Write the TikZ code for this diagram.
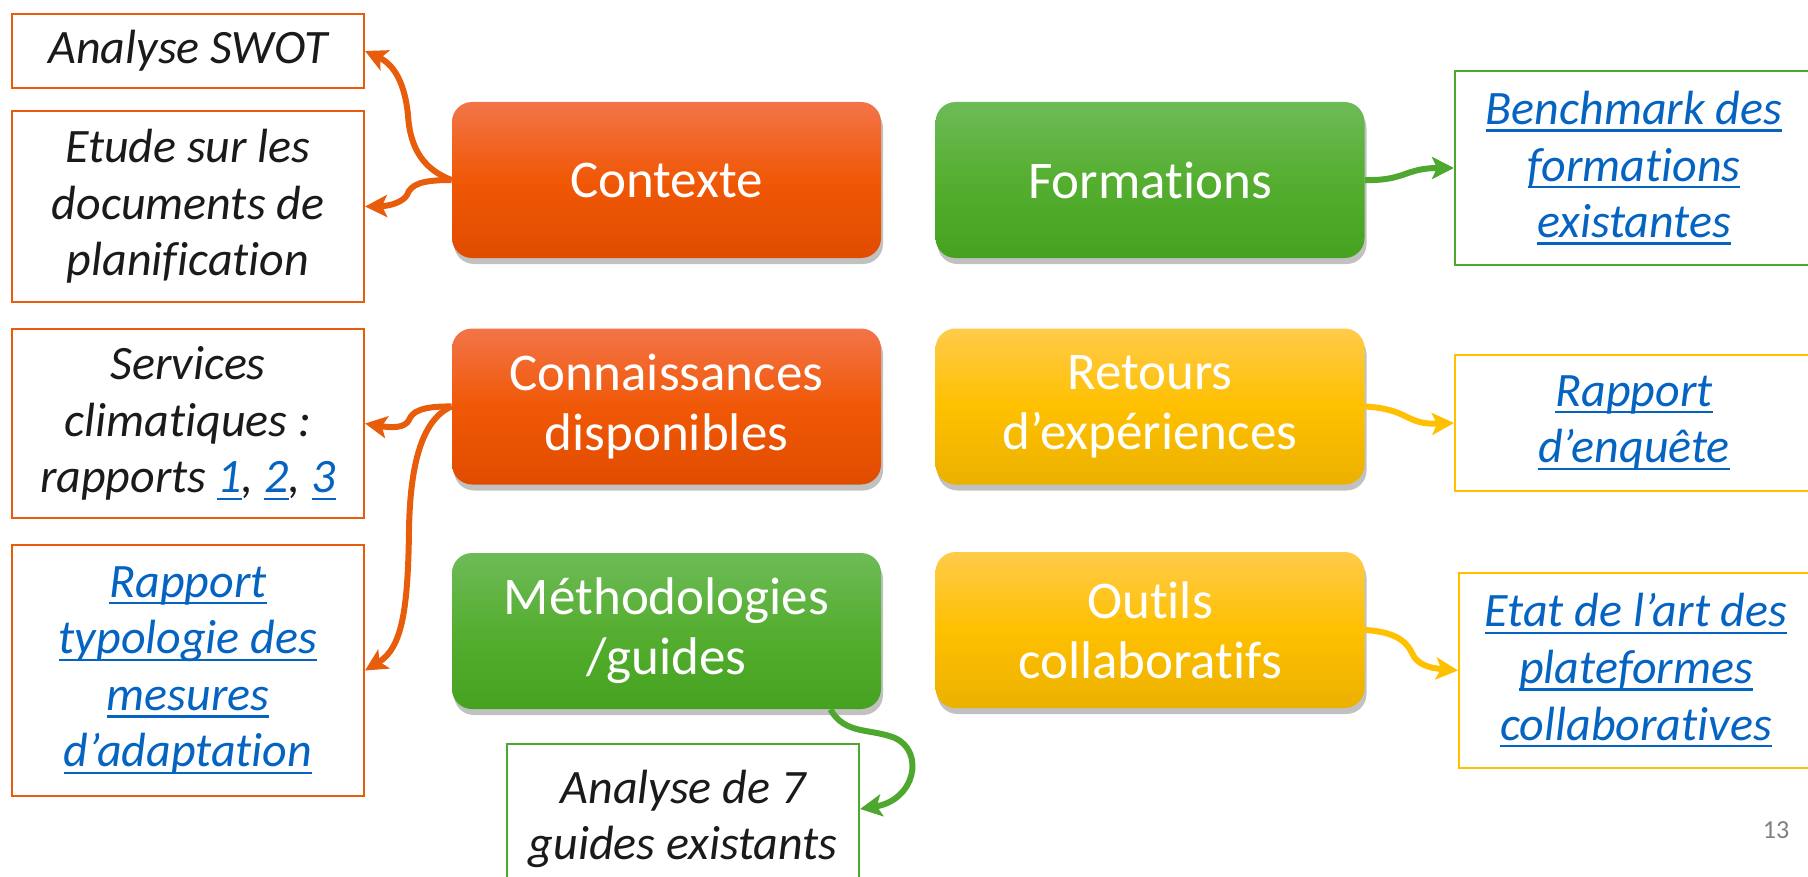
\documentclass[tikz,border=0pt]{standalone}
\usepackage{fontspec}
\setmainfont{Carlito}[Ligatures={NoCommon}]
\usetikzlibrary{arrows.meta,shadows,calc}
\definecolor{orA}{HTML}{E85D0C}
\definecolor{orTop}{HTML}{F37449}
\definecolor{orMid}{HTML}{F05806}
\definecolor{orBot}{HTML}{E04C00}
\definecolor{grA}{HTML}{4EA72E}
\definecolor{grTop}{HTML}{6DBB58}
\definecolor{grMid}{HTML}{55AE30}
\definecolor{grBot}{HTML}{45A21F}
\definecolor{yeA}{HTML}{FFC000}
\definecolor{yeTop}{HTML}{FFCB4A}
\definecolor{yeMid}{HTML}{FFC000}
\definecolor{yeBot}{HTML}{EBB100}
\definecolor{linkblue}{HTML}{0563C1}
\definecolor{txt}{HTML}{1A1A1A}
\newcommand\lnk[1]{{\color{linkblue}\setbox0\hbox{#1}\rlap{\rule[-3.6pt]{\wd0}{1.2pt}}\box0}}
\begin{document}
\begin{tikzpicture}[x=0.5pt,y=0.5pt,
  mainbox/.style={rounded corners=10pt, minimum width=214.5pt, minimum height=78pt,
    align=center, text=white, inner sep=0pt,
    font=\fontsize{26.5}{30}\selectfont,
    drop shadow={shadow xshift=1pt, shadow yshift=-3pt, opacity=0.35, fill=black!70}},
  orangebox/.style={mainbox, top color=orTop, bottom color=orBot, middle color=orMid},
  greenbox/.style={mainbox, top color=grTop, bottom color=grBot, middle color=grMid},
  yellowbox/.style={mainbox, top color=yeTop, bottom color=yeBot, middle color=yeMid},
  lab/.style={draw, line width=1pt, fill=white, align=center, inner sep=0pt, text=txt,
    font=\fontsize{24}{28.3}\selectfont\itshape},
  conn/.style={line width=3pt, -{Stealth[length=11pt,width=11pt,inset=2.5pt]}}
  ]
\useasboundingbox (0,0) rectangle (1808,-877);
% main boxes
\node[orangebox] (contexte) at (666.5,-180) {Contexte};
\node[orangebox] (connais) at (666.5,-406.5) {Connaissances\\disponibles};
\node[greenbox] (meth) at (666.5,-631) {Méthodologies\\/guides};
\node[greenbox] (form) at (1150,-180) {Formations};
\node[yellowbox] (retours) at (1150,-406.5) {Retours\\d’expériences};
\node[yellowbox] (outils) at (1150,-630) {Outils\\collaboratifs};
% label boxes
\node[lab, draw=orA, minimum width=176pt, minimum height=37pt] (swot) at (188,-51) {Analyse SWOT};
\node[lab, draw=orA, minimum width=176pt, minimum height=95.5pt] (etude) at (188,-206.5) {Etude sur les\\documents de\\planification};
\node[lab, draw=orA, minimum width=176pt, minimum height=94.5pt] (services) at (188,-423.5) {Services\\climatiques :\\rapports \lnk{1}, \lnk{2}, \lnk{3}};
\node[lab, draw=orA, minimum width=176pt, minimum height=125.5pt] (typo) at (188,-670.5) {\lnk{Rapport}\\\lnk{typologie des}\\\lnk{mesures}\\\lnk{d’adaptation}};
\node[lab, draw=grA, minimum width=176pt, minimum height=75pt] (analyse) at (683,-819) {Analyse de 7\\guides existants};
\node[lab, draw=grA, minimum width=179pt, minimum height=97pt] (bench) at (1634,-168) {\lnk{Benchmark des}\\\lnk{formations}\\\lnk{existantes}};
\node[lab, draw=yeA, minimum width=179pt, minimum height=68pt] (enquete) at (1634,-423) {\lnk{Rapport}\\\lnk{d’enquête}};
\node[lab, draw=yeA, minimum width=177pt, minimum height=97.5pt] (etat) at (1636,-670.5) {\lnk{Etat de l’art des}\\\lnk{plateformes}\\\lnk{collaboratives}};
\node[text=gray, font=\fontsize{13}{15}\selectfont] (page) at (1776,-830) {13};
% connectors
\coordinate (ms) at ($(meth.south east)+(-51,0)$);
\coordinate (ae) at ($(analyse.east)+(0,10)$);
\draw[conn, orA] (contexte.west) .. controls (425,-170) and (410,-150) .. (408,-115) .. controls (405,-85) and (395,-65) .. (swot.east);
\draw[conn, orA] (contexte.west) .. controls (422,-180) and (411,-184) .. (407,-195) .. controls (403,-202) and (390,-206) .. (etude.east);
\draw[conn, orA] (connais.west) .. controls (421,-406) and (412,-412) .. (409,-420) .. controls (405,-428) and (392,-428) .. (services.east);
\draw[conn, orA] (connais.west) .. controls (420,-420) and (410,-470) .. (409,-530) .. controls (408,-610) and (402,-648) .. (typo.east);
\draw[conn, grA] (ms) .. controls (845,-735) and (870,-728) .. (895,-738) .. controls (925,-752) and (915,-800) .. (ae);
\draw[conn, grA] (form.east) .. controls (1405,-181) and (1405,-168) .. (bench.west);
\draw[conn, yeA] (retours.east) .. controls (1410,-409) and (1405,-425) .. (enquete.west);
\draw[conn, yeA] (outils.east) .. controls (1400,-632) and (1408,-645) .. (1412,-653) .. controls (1417,-665) and (1430,-668) .. (etat.west);
\end{tikzpicture}
\end{document}
